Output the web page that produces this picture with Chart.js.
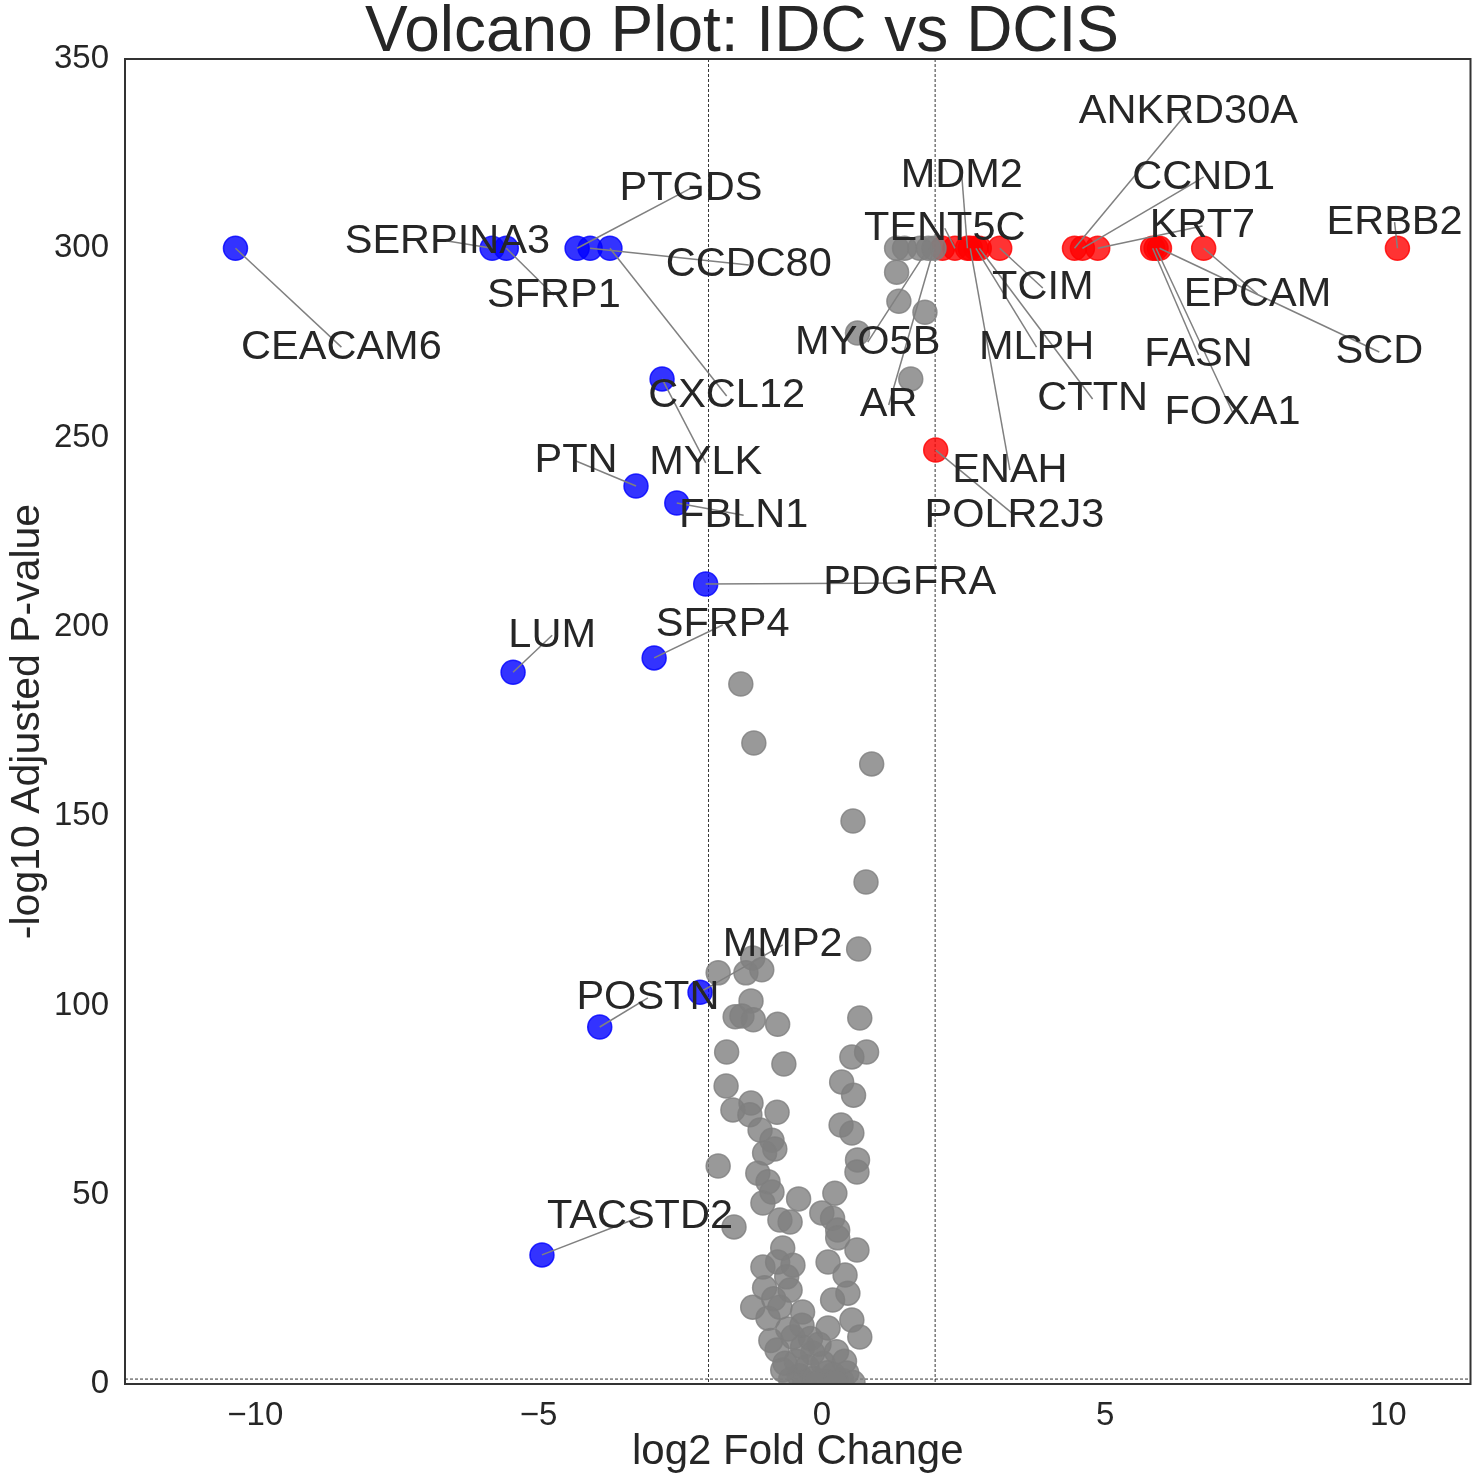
<!DOCTYPE html>
<html>
<head>
<meta charset="utf-8">
<title>Volcano Plot: IDC vs DCIS</title>
<script src="https://cdn.jsdelivr.net/npm/chart.js@4.4.1/dist/chart.umd.min.js"></script>
<style>
  body { margin: 0; background: #fff; }
  canvas { display: block; }
</style>
</head>
<body>
<canvas id="volcano" width="1484" height="1484"></canvas>
<script>
// labelled genes: log2 fold change, -log10 adjusted p-value
const genes = ["CEACAM6", "SERPINA3", "SFRP1", "PTGDS", "CCDC80", "CXCL12", "MYLK", "PTN",
  "FBLN1", "PDGFRA", "SFRP4", "LUM", "POSTN", "TACSTD2", "MMP2", "POLR2J3", "ENAH", "MDM2",
  "TENT5C", "TCIM", "MLPH", "CTTN", "MYO5B", "AR", "ANKRD30A", "CCND1", "KRT7", "FASN",
  "FOXA1", "SCD", "EPCAM", "ERBB2"];
const geneFC = [-10.35, -5.82, -5.57, -4.32, -4.09, -3.74, -2.82, -3.28,
  -2.56, -2.05, -2.96, -5.45, -3.92, -4.94, -2.15, 2.01, 2.62, 2.57,
  2.35, 3.14, 2.72, 2.78, 1.88, 1.98, 4.46, 4.60, 4.87, 5.84,
  5.90, 5.96, 6.74, 10.16];
const geneP = [300, 300, 300, 300, 300, 300, 265.5, 237.2,
  232.7, 211.3, 191.8, 188, 94.3, 34.1, 103.5, 246.7, 300, 300,
  300, 300, 300, 300, 300, 300, 300, 300, 300, 300,
  300, 300, 300, 300];
// where each gene name sits after label adjustment (data units)
const labelX = [-8.48, -6.61, -4.73, -2.31, -1.29, -1.68, -2.05, -4.34,
  -1.38, 1.55, -1.75, -4.76, -3.07, -3.21, -0.69, 3.40, 3.32, 2.47,
  2.17, 3.90, 3.79, 4.78, 0.81, 1.18, 6.47, 6.74, 6.72, 6.65,
  7.25, 9.84, 7.69, 10.11];
const labelY = [273.9, 301.9, 287.6, 315.9, 295.6, 261.0, 243.3, 243.8,
  229.5, 211.6, 200.5, 197.8, 102.0, 44.1, 116.0, 229.5, 241.4, 319.3,
  305.3, 289.5, 273.9, 260.2, 275.2, 258.6, 336.2, 318.8, 305.9, 271.8,
  256.7, 272.6, 287.9, 306.9];

// other genes (unlabelled)
const otherFC = [1.32, 1.46, 1.73, 2.13, 1.32, 1.36, 1.82, 0.63, 1.57,
  -1.43, -1.20, 0.88, 0.55, 0.78, 0.65, -1.83, -1.34, -1.22, -1.06,
  -1.25, -1.53, -1.41, -1.21, -0.78, 0.67, -1.68, -0.67, -1.69, -1.57, -1.25, -1.27, -0.79,
  -1.09, -0.88, -0.83, -1.01, -1.83, -1.13, -0.95, -0.88, -1.04, -0.74, -0.56, -0.41, -1.55,
  0.0, 0.19, 0.23, 0.53, 0.79, 0.35, 0.56, 0.34, 0.53, 0.63, 0.62, 0.28,
  0.28, 0.62, -0.69, -1.04, -0.78, -0.51, 0.11, 0.41, -0.62,
  -1.01, -0.56, 0.46, -1.22, -0.95, -0.74, -0.34, 0.19, 0.11, 0.53, 0.67,
  -0.79, -0.51, -0.34, -0.16, 0.26, -0.69, -0.26, 0.02, 0.44,
  -0.55, -0.40, -0.30, -0.15, 0.05, 0.20, 0.35, 0.55, -0.45, -0.60, -0.85, -0.65,
  -0.20, 0.10, -0.05, -0.90, 0.40, -0.35, -0.10, 0.25];
const otherP = [300, 300, 300, 300, 293.7, 286.0, 283.1, 277.6, 265.5,
  184.9, 169.3, 163.8, 148.7, 132.6, 114.9, 108.6, 108.6, 112.5, 109.4,
  101.2, 97.0, 97.2, 96.2, 95.0, 96.7, 87.7, 84.5, 78.7, 72.4, 74.2, 71.1, 71.8,
  67.1, 64.4, 62.1, 61.0, 57.6, 55.7, 53.4, 50.7, 47.8, 43.3, 42.8, 48.9, 41.5,
  45.2, 43.8, 50.4, 86.4, 87.7, 79.8, 76.3, 68.4, 66.3, 59.2, 56.0, 40.7,
  38.6, 35.4, 35.9, 30.9, 32.2, 31.4, 32.2, 28.8, 28.3,
  25.4, 24.8, 24.0, 20.3, 17.4, 20.3, 19.0, 22.2, 14.8, 16.9, 12.4,
  9.0, 12.4, 9.8, 8.2, 8.5, 3.7, 4.5, 5.5, 2.9,
  1.2, 2.2, 0.6, 1.5, 0.8, 2.5, 1.0, 0.4, 6.0, 14.5, 22.5, 5.5,
  12.0, 3.0, 10.5, 11.5, 6.0, 15.5, 0.3, 0.6];

const xTickValues = [-10, -5, 0, 5, 10];
const fcCut = 2;
const pCut = -Math.log10(0.05);

const FONT = "'Liberation Sans', Arial, sans-serif";
const TEXT = "#262626";

// split everything into down / not significant / up
const down = [], flat = [], up = [];
function place(x, y) {
  const pt = { x: x, y: y };
  if (y > pCut && x > fcCut) up.push(pt);
  else if (y > pCut && x < -fcCut) down.push(pt);
  else flat.push(pt);
}
otherFC.forEach((x, i) => place(x, otherP[i]));
geneFC.forEach((x, i) => place(x, geneP[i]));

const overlay = {
  id: "overlay",
  beforeDatasetsDraw(chart) {
    const { ctx, chartArea: a, scales: { x, y } } = chart;
    ctx.save();
    ctx.strokeStyle = "#000";
    ctx.lineWidth = 0.8;
    ctx.setLineDash([3, 2]);
    [-fcCut, fcCut].forEach(v => {
      const px = x.getPixelForValue(v);
      ctx.beginPath(); ctx.moveTo(px, a.top); ctx.lineTo(px, a.bottom); ctx.stroke();
    });
    const py = y.getPixelForValue(pCut);
    ctx.beginPath(); ctx.moveTo(a.left, py); ctx.lineTo(a.right, py); ctx.stroke();
    ctx.restore();
  },
  afterDatasetsDraw(chart) {
    const { ctx, scales: { x, y } } = chart;
    ctx.save();
    // leader lines
    ctx.strokeStyle = "#808080";
    ctx.lineWidth = 1.5;
    genes.forEach((g, i) => {
      ctx.beginPath();
      ctx.moveTo(x.getPixelForValue(geneFC[i]), y.getPixelForValue(geneP[i]));
      ctx.lineTo(x.getPixelForValue(labelX[i]), y.getPixelForValue(labelY[i]));
      ctx.stroke();
    });
    // gene names
    ctx.fillStyle = TEXT;
    ctx.font = "41.5px " + FONT;
    ctx.textAlign = "center";
    ctx.textBaseline = "middle";
    genes.forEach((g, i) => {
      ctx.fillText(g, x.getPixelForValue(labelX[i]), y.getPixelForValue(labelY[i]));
    });
    ctx.restore();
  },
  afterDraw(chart) {
    const { ctx, chartArea: a } = chart;
    ctx.save();
    ctx.strokeStyle = "#333";
    ctx.lineWidth = 2;
    ctx.strokeRect(a.left, a.top, a.right - a.left, a.bottom - a.top);
    // figure title, centred on the whole canvas
    ctx.fillStyle = TEXT;
    ctx.font = "64px " + FONT;
    ctx.textAlign = "center";
    ctx.textBaseline = "alphabetic";
    ctx.fillText("Volcano Plot: IDC vs DCIS", chart.width / 2, 51);
    ctx.restore();
  }
};

function dot(fill) {
  return {
    pointRadius: 12,
    pointHoverRadius: 12,
    pointBorderWidth: 1.5,
    backgroundColor: fill,
    borderColor: fill
  };
}

new Chart(document.getElementById("volcano"), {
  type: "scatter",
  data: {
    datasets: [
      Object.assign({ label: "ns", data: flat }, dot("rgba(128,128,128,0.8)")),
      Object.assign({ label: "down", data: down }, dot("rgba(0,0,255,0.8)")),
      Object.assign({ label: "up", data: up }, dot("rgba(255,0,0,0.8)"))
    ]
  },
  options: {
    responsive: false,
    animation: false,
    devicePixelRatio: 1,
    layout: { padding: { left: 0, right: 12, top: 59, bottom: 0 } },
    plugins: {
      legend: { display: false },
      tooltip: { enabled: false },
      title: { display: false }
    },
    scales: {
      x: {
        type: "linear",
        min: -12.3,
        max: 11.45,
        afterFit: s => { s.height = 100; },
        afterBuildTicks: s => { s.ticks = xTickValues.map(v => ({ value: v })); },
        grid: { display: false, drawTicks: false },
        border: { display: false },
        ticks: {
          color: TEXT,
          font: { family: FONT, size: 33 },
          padding: 12,
          callback: v => v < 0 ? "\u2212" + Math.abs(v) : String(v)
        },
        title: {
          display: true,
          text: "log2 Fold Change",
          color: TEXT,
          font: { family: FONT, size: 42, lineHeight: 1.2 },
          padding: { top: 0, bottom: 6 }
        }
      },
      y: {
        type: "linear",
        min: 0,
        max: 350,
        afterFit: s => { s.width = 125; },
        grid: { display: false, drawTicks: false },
        border: { display: false },
        ticks: {
          stepSize: 50,
          color: TEXT,
          font: { family: FONT, size: 33 },
          padding: 16
        },
        title: {
          display: true,
          text: "-log10 Adjusted P-value",
          color: TEXT,
          font: { family: FONT, size: 41, lineHeight: 1.2 },
          padding: { top: 3, bottom: 0 }
        }
      }
    }
  },
  plugins: [overlay]
});
</script>
</body>
</html>
